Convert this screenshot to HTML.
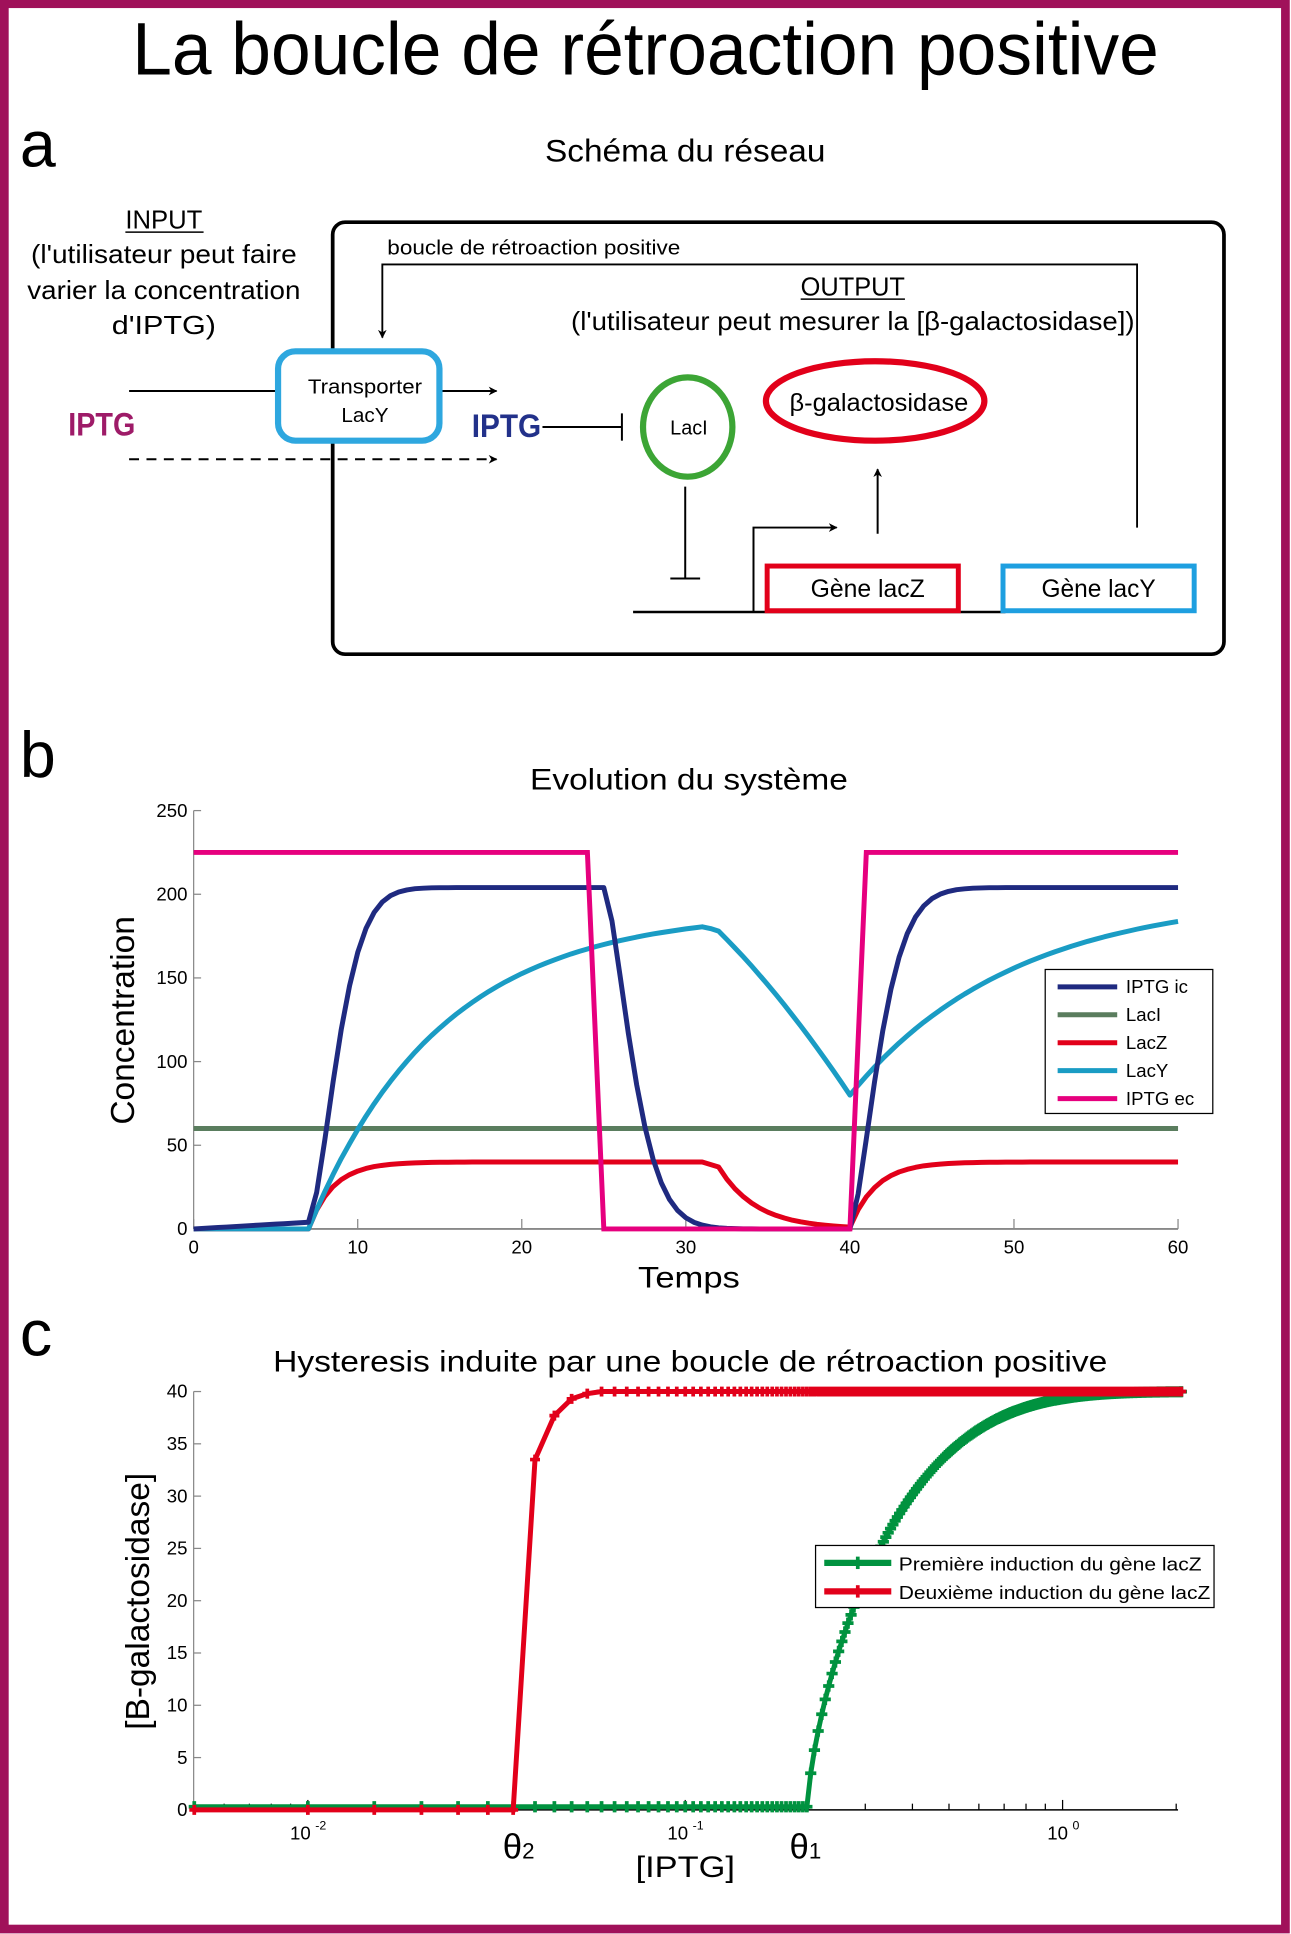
<!DOCTYPE html>
<html><head><meta charset="utf-8">
<style>
html,body{margin:0;padding:0;background:#fff;}
svg{display:block;}
text{font-family:"Liberation Sans",sans-serif;}
</style></head>
<body>
<svg id="s" width="1291" height="1934" viewBox="0 0 1040 1558" preserveAspectRatio="none" xmlns="http://www.w3.org/2000/svg">
<defs>
<marker id="ah" viewBox="0 0 10 10" refX="9" refY="5" markerWidth="7" markerHeight="7" orient="auto" markerUnits="userSpaceOnUse">
<path d="M0,0 L10,5 L0,10 L3,5 z" fill="#000"/></marker>
</defs>
<rect x="0" y="0" width="1040" height="1558" fill="#fff"/>
<rect x="3.5" y="3" width="1032" height="1551" fill="none" stroke="#a0115a" stroke-width="7"/>

<text x="520" y="60" font-size="60" text-anchor="middle" textLength="827" lengthAdjust="spacingAndGlyphs">La boucle de rétroaction positive</text>

<text x="16" y="134" font-size="52">a</text>
<text x="552" y="130" font-size="25" text-anchor="middle" textLength="226" lengthAdjust="spacingAndGlyphs">Schéma du réseau</text>
<text x="132" y="184" font-size="21" text-anchor="middle" textLength="62" lengthAdjust="spacingAndGlyphs">INPUT</text>
<line x1="101" y1="187" x2="164" y2="187" stroke="#000" stroke-width="1.2"/>
<text x="132" y="212" font-size="21" text-anchor="middle" textLength="214" lengthAdjust="spacingAndGlyphs">(l'utilisateur peut faire</text>
<text x="132" y="241" font-size="21" text-anchor="middle" textLength="220" lengthAdjust="spacingAndGlyphs">varier la concentration</text>
<text x="132" y="269" font-size="21" text-anchor="middle" textLength="84" lengthAdjust="spacingAndGlyphs">d'IPTG)</text>

<rect x="268" y="179" width="718" height="348" rx="10" fill="none" stroke="#000" stroke-width="3"/>
<text x="312" y="205" font-size="16" textLength="236" lengthAdjust="spacingAndGlyphs">boucle de rétroaction positive</text>
<polyline points="916,425 916,213 308,213 308,272" fill="none" stroke="#000" stroke-width="1.5" marker-end="url(#ah)"/>
<text x="687" y="238" font-size="21" text-anchor="middle" textLength="84" lengthAdjust="spacingAndGlyphs">OUTPUT</text>
<line x1="645" y1="241" x2="729" y2="241" stroke="#000" stroke-width="1.2"/>
<text x="687" y="266" font-size="21" text-anchor="middle" textLength="454" lengthAdjust="spacingAndGlyphs">(l'utilisateur peut mesurer la [β-galactosidase])</text>

<line x1="104" y1="315" x2="224" y2="315" stroke="#000" stroke-width="1.6"/>
<line x1="354" y1="315" x2="400" y2="315" stroke="#000" stroke-width="1.6" marker-end="url(#ah)"/>
<line x1="104" y1="370" x2="400" y2="370" stroke="#000" stroke-width="1.6" stroke-dasharray="8,6" marker-end="url(#ah)"/>
<rect x="224" y="283" width="130" height="72" rx="14" fill="#fff" stroke="#2ea7df" stroke-width="5"/>
<text x="294" y="317" font-size="16" text-anchor="middle" textLength="92" lengthAdjust="spacingAndGlyphs">Transporter</text>
<text x="294" y="340" font-size="16" text-anchor="middle" textLength="38" lengthAdjust="spacingAndGlyphs">LacY</text>
<text x="55" y="351" font-size="26" font-weight="bold" fill="#9e1b68" textLength="54" lengthAdjust="spacingAndGlyphs">IPTG</text>
<text x="380" y="352" font-size="26" font-weight="bold" fill="#22318a" textLength="56" lengthAdjust="spacingAndGlyphs">IPTG</text>
<line x1="437" y1="344" x2="501" y2="344" stroke="#000" stroke-width="1.6"/>
<line x1="501" y1="333" x2="501" y2="355" stroke="#000" stroke-width="1.6"/>
<ellipse cx="554" cy="344" rx="36" ry="40" fill="none" stroke="#3ca535" stroke-width="5"/>
<text x="555" y="350" font-size="16" text-anchor="middle">LacI</text>
<ellipse cx="705" cy="323" rx="88" ry="32" fill="none" stroke="#e2001a" stroke-width="5"/>
<text x="708" y="331" font-size="20" text-anchor="middle" textLength="144" lengthAdjust="spacingAndGlyphs">β-galactosidase</text>
<line x1="707" y1="430" x2="707" y2="378" stroke="#000" stroke-width="1.6" marker-end="url(#ah)"/>
<line x1="552" y1="392" x2="552" y2="466" stroke="#000" stroke-width="1.6"/>
<line x1="540" y1="466" x2="564" y2="466" stroke="#000" stroke-width="1.6"/>
<polyline points="607,493 607,425 674,425" fill="none" stroke="#000" stroke-width="1.6" marker-end="url(#ah)"/>
<line x1="510" y1="493" x2="810" y2="493" stroke="#000" stroke-width="2"/>
<rect x="618" y="456" width="154" height="36" fill="#fff" stroke="#e2001a" stroke-width="4"/>
<text x="699" y="481" font-size="20" text-anchor="middle" textLength="92" lengthAdjust="spacingAndGlyphs">Gène lacZ</text>
<rect x="808" y="456" width="154" height="36" fill="#fff" stroke="#1e9fe0" stroke-width="4"/>
<text x="885" y="481" font-size="20" text-anchor="middle" textLength="92" lengthAdjust="spacingAndGlyphs">Gène lacY</text>

<text x="16" y="626" font-size="52">b</text>
<text x="555" y="636" font-size="24" text-anchor="middle" textLength="256" lengthAdjust="spacingAndGlyphs">Evolution du système</text>
<g id="bax"></g>
<text transform="translate(108,822) rotate(-90)" font-size="27" text-anchor="middle">Concentration</text>
<text x="555" y="1037" font-size="24" text-anchor="middle" textLength="82" lengthAdjust="spacingAndGlyphs">Temps</text>
<g id="bser"></g>
<rect x="842" y="781" width="135" height="116" fill="#fff" stroke="#000" stroke-width="1"/>
<g id="bleg"></g>

<text x="16" y="1092" font-size="52">c</text>
<text x="556" y="1105" font-size="24" text-anchor="middle" textLength="672" lengthAdjust="spacingAndGlyphs">Hysteresis induite par une boucle de rétroaction positive</text>
<g id="cax"></g>
<text transform="translate(120,1290) rotate(-90)" font-size="27" text-anchor="middle">[B-galactosidase]</text>
<text x="552" y="1512" font-size="24" text-anchor="middle" textLength="80" lengthAdjust="spacingAndGlyphs">[IPTG]</text>
<text x="405" y="1497" font-size="28">θ<tspan font-size="18">2</tspan></text>
<text x="636" y="1497" font-size="28">θ<tspan font-size="18">1</tspan></text>
<g id="cser"></g>
<rect x="657" y="1245" width="321" height="50" fill="#fff" stroke="#000" stroke-width="1"/>
<line x1="664" y1="1259" x2="718" y2="1259" stroke="#00923f" stroke-width="5"/>
<line x1="691" y1="1254" x2="691" y2="1264" stroke="#00923f" stroke-width="3"/>
<text x="724" y="1265" font-size="15" textLength="244" lengthAdjust="spacingAndGlyphs">Première induction du gène lacZ</text>
<line x1="664" y1="1282" x2="718" y2="1282" stroke="#e2001a" stroke-width="5"/>
<line x1="691" y1="1277" x2="691" y2="1287" stroke="#e2001a" stroke-width="3"/>
<text x="724" y="1288" font-size="15" textLength="251" lengthAdjust="spacingAndGlyphs">Deuxième induction du gène lacZ</text>
</svg>
<script>
(function(){
var NS="http://www.w3.org/2000/svg";
function el(p,t,a,txt){var e=document.createElementNS(NS,t);for(var k in a)e.setAttribute(k,a[k]);if(txt!=null)e.textContent=txt;document.getElementById(p).appendChild(e);return e;}
var X0=156,X1=949,Y0=990,Y1=653;
function bx(t){return X0+(X1-X0)*t/60;} function by(v){return Y0-(Y0-Y1)*v/250;}
el("bax","line",{x1:X0,y1:Y1,x2:X0,y2:Y0,stroke:"#888","stroke-width":1});
el("bax","line",{x1:X0,y1:Y0,x2:X1,y2:Y0,stroke:"#888","stroke-width":1.5});
for(var v=0;v<=250;v+=50){el("bax","line",{x1:X0,y1:by(v),x2:X0+6,y2:by(v),stroke:"#888"});el("bax","text",{x:151,y:by(v)+5,"font-size":15,"text-anchor":"end"},String(v));}
for(var t=0;t<=60;t+=10){el("bax","line",{x1:bx(t),y1:Y0,x2:bx(t),y2:Y0-8,stroke:"#888"});el("bax","text",{x:bx(t),y:1010,"font-size":15,"text-anchor":"middle"},String(t));}
function path(f,a,b,st){var s="";for(var t=a;t<=b+1e-9;t+=st){s+=(s?"L":"M")+bx(t).toFixed(1)+","+by(f(t)).toFixed(1);}return s;}
function ic(t){if(t<=7)return 4*t/7;if(t<=25){var u=t-7;return 4+200*(1-Math.exp(-Math.pow(u/2.2,1.6)));}if(t<=40)return 205*Math.exp(-Math.pow((t-25)/2.2,1.5));var w=t-40;return 204*(1-Math.exp(-Math.pow(w/2.2,1.5)));}
function lacy(t){if(t<=7)return 0;if(t<=31)return 190*(1-Math.exp(-(t-7)/8));if(t<=32)return 181-3*(t-31);if(t<=40){var u=(t-32)/8;return 178-98*(u*0.8+0.2*u*u);}return 80+120*(1-Math.exp(-(t-40)/10));}
function lacz(t){if(t<=7)return 0;if(t<=31)return 40*(1-Math.exp(-(t-7)/1.5));if(t<=32)return 40-3*(t-31);if(t<=40)return 37*Math.exp(-(t-32)/2.3);return 40*(1-Math.exp(-(t-40)/1.6))+1*Math.exp(-(t-40)/1.6);}
el("bser","path",{d:path(function(){return 60;},0,60,1),stroke:"#5a7d5e","stroke-width":4,fill:"none"});
el("bser","path",{d:path(lacz,0,60,0.5),stroke:"#e2001a","stroke-width":4,fill:"none","stroke-linejoin":"round"});
el("bser","path",{d:path(lacy,0,60,0.5),stroke:"#1a9cc4","stroke-width":4,fill:"none","stroke-linejoin":"round"});
el("bser","path",{d:path(ic,0,60,0.5),stroke:"#1f2a80","stroke-width":4,fill:"none","stroke-linejoin":"round"});
var pk="M"+bx(0)+","+by(225)+"L"+bx(24)+","+by(225)+"L"+bx(25)+","+by(0)+"L"+bx(40)+","+by(0)+"L"+bx(41)+","+by(225)+"L"+bx(60)+","+by(225);
el("bser","path",{d:pk,stroke:"#e6007e","stroke-width":4,fill:"none"});
var lg=[["IPTG ic","#1f2a80"],["LacI","#5a7d5e"],["LacZ","#e2001a"],["LacY","#1a9cc4"],["IPTG ec","#e6007e"]];
lg.forEach(function(e,i){var y=795+i*22.5;el("bleg","line",{x1:852,y1:y,x2:900,y2:y,stroke:e[1],"stroke-width":4});el("bleg","text",{x:907,y:y+5,"font-size":15},e[0]);});
var CX0=156,CX1=949,CY0=1458,CY1=1121;
function cx(c){return 552+304*(Math.log10(c)+1);} function cy(v){return CY0-(CY0-CY1)*v/40;}
el("cax","line",{x1:CX0,y1:CY1,x2:CX0,y2:CY0,stroke:"#888","stroke-width":1});
el("cax","line",{x1:CX0,y1:CY0,x2:CX1,y2:CY0,stroke:"#000","stroke-width":1.2});
for(var v=0;v<=40;v+=5){el("cax","line",{x1:CX0,y1:cy(v),x2:CX0+6,y2:cy(v),stroke:"#888"});el("cax","text",{x:151,y:cy(v)+5,"font-size":15,"text-anchor":"end"},String(v));}
for(var d=-3;d<=0;d++){for(var m=1;m<=9;m++){var c=m*Math.pow(10,d);var x=cx(c);if(x<CX0||x>CX1)continue;el("cax","line",{x1:x,y1:CY0,x2:x,y2:CY0-(m==1?8:5),stroke:"#000"});}}
[[-2,248],[-1,552],[0,858]].forEach(function(p){el("cax","text",{x:p[1]-6,y:1482,"font-size":15,"text-anchor":"middle"},"10");el("cax","text",{x:p[1]+6,y:1474,"font-size":10},String(p[0]));});
function green(c){if(c<=0.21)return 0.3;var z=Math.pow((c-0.21)/0.121,0.75);return Math.max(0.3,40*(1-Math.exp(-z)));}
function red(c){if(c<0.0375)return 0;var n=Math.round(c/0.005);if(n==8)return 33.5;if(n==9)return 37.7;if(n==10)return 39.3;if(n==11)return 39.8;return 40;}
function series(f,col,id,st,ms,mw){var s="",mk="";for(var n=1;;n++){var c=n*st;var x=cx(c),y=cy(f(c));if(x>952)break;s+=(s?"L":"M")+x.toFixed(1)+","+y.toFixed(1);mk+="M"+(x-ms).toFixed(1)+","+y.toFixed(1)+"h"+(2*ms)+"M"+x.toFixed(1)+","+(y-ms).toFixed(1)+"v"+(2*ms);}
el(id,"path",{d:s,stroke:col,"stroke-width":4,fill:"none"});el(id,"path",{d:mk,stroke:col,"stroke-width":mw,fill:"none"});}
series(green,"#00923f","cser",0.005,4.5,3);
series(red,"#e2001a","cser",0.005,4,3);
})();
</script>
</body></html>
